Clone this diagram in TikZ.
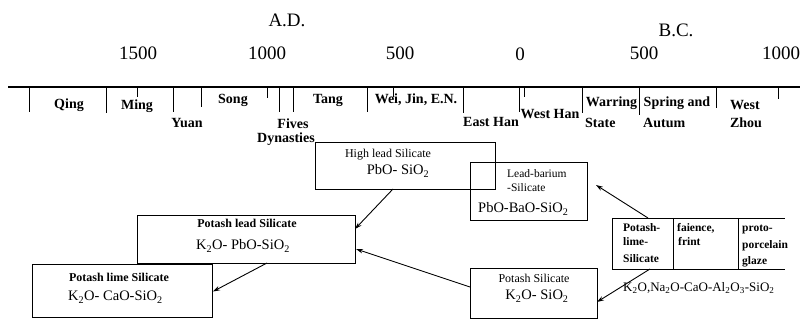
\documentclass[tikz,border=0pt]{standalone}
\usepackage{fontspec}
\setmainfont{Liberation Serif}
\usetikzlibrary{arrows.meta,calc}
\begin{document}
\begin{tikzpicture}[x=1pt,y=-1pt,
  box/.style={draw, line width=0.9pt, inner sep=0pt, outer sep=0pt, rectangle},
  cell/.style={inner sep=0pt, outer sep=0pt, rectangle, minimum height=51pt},
  per/.style={font=\fontsize{14}{16}\selectfont\bfseries, inner sep=0pt, anchor=base},
  yr/.style={font=\fontsize{19}{22}\selectfont, inner sep=0pt, anchor=base},
  ttl/.style={font=\fontsize{12}{14}\selectfont, inner sep=0pt, anchor=base},
  ttlb/.style={font=\fontsize{12}{14}\selectfont\bfseries, inner sep=0pt, anchor=base},
  frm/.style={font=\fontsize{14.5}{16}\selectfont, inner sep=0pt, anchor=base},
  cel/.style={font=\fontsize{11.5}{13}\selectfont\bfseries, inner sep=0pt, anchor=base west},
  tickln/.style={line width=0.9pt},
  arr/.style={line width=0.9pt, -{Stealth[length=7pt,width=4.5pt]}},
]
\useasboundingbox (0,0) rectangle (801,320);

% era labels and years
\node[yr] (ad) at (287,27) {A.D.};
\node[yr] (bc) at (676,37) {B.C.};
\node[yr] (y1500) at (138,60) {1500};
\node[yr] (y1000) at (267,60) {1000};
\node[yr] (y500) at (400,60) {500};
\node[yr] (y0) at (520,61) {0};
\node[yr] (b500) at (644,60) {500};
\node[yr] (b1000) at (781,60) {1000};

% axis
\coordinate (axL) at (8,87);
\coordinate (axR) at (800,87);
\draw[line width=1.4pt] (axL) -- (axR);
\foreach \x/\b in {29/112,106/113,137/97,173/112,201/107,267/98,279/112,293/112,367/112,393/97,463/113,519/112,524/97,582/113,639/115,716/108,778/99}
  \draw[tickln] (\x,87) -- (\x,\b);

% periods
\node[per] (qing) at (69,109) {Qing};
\node[per] (ming) at (137,110) {Ming};
\node[per] (yuan) at (187,128) {Yuan};
\node[per] (song) at (233,104) {Song};
\node[per] (tang) at (328,104) {Tang};
\node[per] (wei) at (416,104) {Wei, Jin, E.N.};
\node[per] (fives) at (293,129) {Fives};
\node[per] (dyn) at (286,143) {Dynasties};
\node[per] (ehan) at (491,127) {East Han};
\node[per] (whan) at (550,119) {West Han};
\node[per] (warr) at (611.5,107) {Warring};
\node[per, anchor=base west] (state) at (585,128) {State};
\node[per] (spring) at (677,107) {Spring and};
\node[per, anchor=base west] (autum) at (643,128) {Autum};
\node[per] (west) at (745,110) {West};
\node[per] (zhou) at (746,128) {Zhou};

% boxes
\node[box, minimum width=180pt, minimum height=47pt] (hl) at (405,165.5) {};
\node[box, minimum width=117pt, minimum height=58pt] (lb) at (528.5,191) {};
\node[box, minimum width=218pt, minimum height=48pt] (pl) at (246,239) {};
\node[box, minimum width=180pt, minimum height=53pt] (plime) at (122,290.5) {};
\node[box, minimum width=127pt, minimum height=50pt] (ps) at (533.5,293) {};

% table
\node[cell, minimum width=61pt] (c1) at (642.5,243.5) {};
\node[cell, minimum width=65pt] (c2) at (705.5,243.5) {};
\node[cell, minimum width=47pt] (c3) at (761.5,243.5) {};
\draw[line width=0.9pt] (c1.north west) -- (c3.north east);
\draw[line width=0.9pt] (c1.south west) -- (c3.south east);
\draw[line width=0.9pt] (c1.north west) -- (c1.south west);
\draw[line width=0.9pt] (c1.north east) -- (c1.south east);
\draw[line width=0.9pt] (c2.north east) -- (c2.south east);

% box texts
\node[ttl] (hlt) at (388,158) {High lead Silicate};
\node[frm] (hlf) at (398,175) {PbO- SiO\textsubscript{2}};
\node[ttl, anchor=base west, font=\fontsize{11.5}{13}\selectfont] (lbt1) at (507,178) {Lead-barium};
\node[ttl, anchor=base west, font=\fontsize{11.5}{13}\selectfont] (lbt2) at (507,192) {-Silicate};
\node[frm, anchor=base west] (lbf) at (478,213) {PbO-BaO-SiO\textsubscript{2}};
\node[ttlb] (plt) at (247,228) {Potash lead Silicate};
\node[frm] (plf) at (243,250) {K\textsubscript{2}O- PbO-SiO\textsubscript{2}};
\node[ttlb] (plimet) at (119,282) {Potash lime Silicate};
\node[frm, anchor=base west] (plimef) at (68,301) {K\textsubscript{2}O- CaO-SiO\textsubscript{2}};
\node[ttl] (pst) at (534,283) {Potash Silicate};
\node[frm] (psf) at (537,300) {K\textsubscript{2}O- SiO\textsubscript{2}};

\node[cel] (t1a) at (623,232) {Potash-};
\node[cel] (t1b) at (623,246) {lime-};
\node[cel] (t1c) at (623,263) {Silicate};
\node[cel] (t2a) at (677,232) {faience,};
\node[cel] (t2b) at (678,246) {frint};
\node[cel] (t3a) at (742,232) {proto-};
\node[cel] (t3b) at (742,249) {porcelain};
\node[cel] (t3c) at (742,265) {glaze};
\node[frm, anchor=base west, font=\fontsize{13}{15}\selectfont] (gf) at (623,292) {K\textsubscript{2}O,Na\textsubscript{2}O-CaO-Al\textsubscript{2}O\textsubscript{3}-SiO\textsubscript{2}};

% connectors
\draw[arr] ($(hl.south)+(-12,0)$) -- ($(pl.east)+(0,-10)$);
\draw[arr] ($(ps.west)+(0,-6)$) -- ($(pl.east)+(1,10)$);
\draw[arr] ($(pl.south)+(21,0)$) -- ($(plime.east)+(1,1)$);
\draw[arr] ($(c1.north)+(5.5,0)$) -- ($(lb.east)+(9,-6)$);
\draw[arr] ($(c1.south)+(7.5,0)$) -- ($(ps.east)+(0,9)$);
\end{tikzpicture}
\end{document}
